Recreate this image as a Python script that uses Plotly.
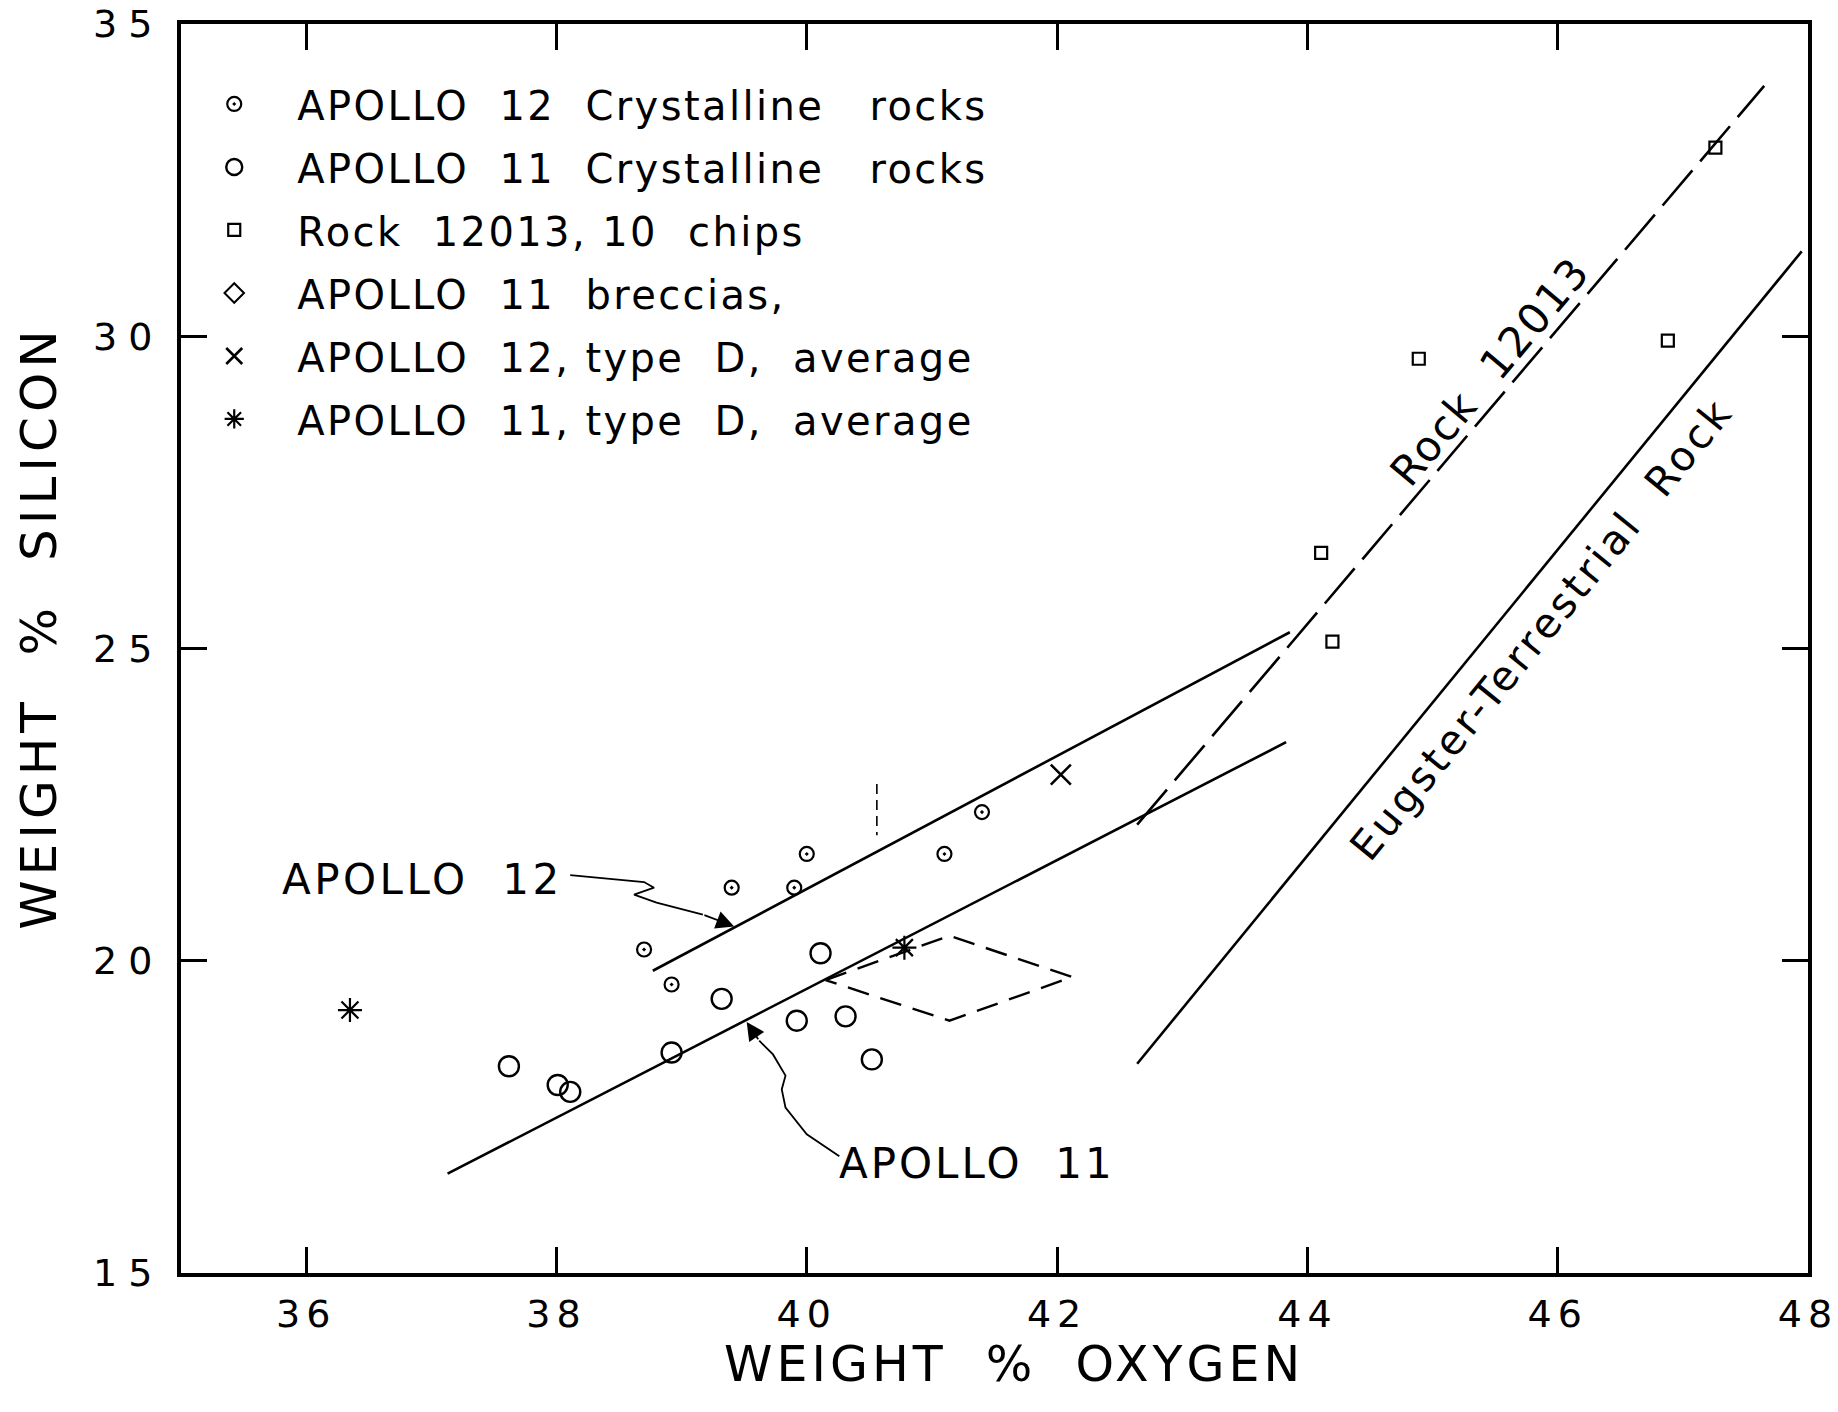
import plotly.graph_objects as go

FONT = "DejaVu Sans"

# ---------------- data ----------------
a12_o = [38.70, 38.92, 39.40, 39.90, 40.00, 41.10, 41.40]
a12_si = [20.18, 19.62, 21.17, 21.17, 21.71, 21.71, 22.38]

a11_o = [37.62, 38.01, 38.11, 38.92, 39.32, 39.92, 40.11, 40.31, 40.52]
a11_si = [18.31, 18.01, 17.90, 18.53, 19.39, 19.04, 20.12, 19.11, 18.42]

r12013_o = [47.26, 44.89, 46.88, 44.11, 44.20]
r12013_si = [33.02, 29.64, 29.93, 26.53, 25.11]

a12d_o = [42.03]
a12d_si = [22.98]

a11d_o = [36.35, 40.78]
a11d_si = [19.21, 20.21]

# breccia field (dashed diamond)
brec_o = [40.15, 41.14, 42.12, 41.14, 40.15]
brec_si = [19.69, 20.40, 19.74, 19.04, 19.69]

# trend lines
a12_line_o = [38.77, 43.86]
a12_line_si = [19.84, 25.26]
a11_line_o = [37.13, 43.83]
a11_line_si = [16.59, 23.50]
rock_line_o = [42.64, 47.65]
rock_line_si = [22.18, 34.01]
eug_line_o = [42.64, 47.95]
eug_line_si = [18.35, 31.36]

# small dashed vertical mark
mark_o = [40.56, 40.56]
mark_si = [22.83, 22.01]

# leader lines for the labels
lead12_o = [38.11, 38.70, 38.78, 38.62, 38.80, 39.17]
lead12_si = [21.37, 21.26, 21.17, 21.06, 20.93, 20.74]
lead12_tip = (39.42, 20.55)
lead11_o = [39.62, 39.73, 39.83, 39.80, 39.83, 40.00, 40.26]
lead11_si = [18.72, 18.50, 18.16, 17.94, 17.65, 17.22, 16.87]
lead11_tip = (39.52, 19.02)

x_ticks = [36, 38, 40, 42, 44, 46, 48]
y_ticks = [15, 20, 25, 30, 35]

legend_names = [
    "APOLLO  12  Crystalline   rocks",
    "APOLLO  11  Crystalline   rocks",
    "Rock  12013, 10  chips",
    "APOLLO  11  breccias,",
    "APOLLO  12, type  D,  average",
    "APOLLO  11, type  D,  average",
]


def spaced(text, px):
    return '<span style="letter-spacing:%spx">%s</span>' % (px, text)


fig = go.Figure()


def add_line(xs, ys, dash="solid", width=2.6):
    fig.add_trace(go.Scatter(x=xs, y=ys, mode="lines",
                             line=dict(color="black", width=width, dash=dash),
                             showlegend=False, hoverinfo="skip"))


add_line(a12_line_o, a12_line_si)
add_line(a11_line_o, a11_line_si)
add_line(rock_line_o, rock_line_si, dash="46px,12px")
add_line(eug_line_o, eug_line_si)
add_line(brec_o, brec_si, dash="22px,12px", width=2.4)
add_line(mark_o, mark_si, dash="10px,6px", width=1.6)
add_line(lead12_o, lead12_si, width=1.8)
add_line(lead11_o, lead11_si, width=1.8)

# markers (legend entries)
fig.add_trace(go.Scatter(x=a12_o, y=a12_si, mode="markers",
                         name=spaced(legend_names[0], 2.4), legendgroup="g1",
                         marker=dict(symbol="circle-open-dot", size=14, color="black",
                                     line=dict(width=2.2, color="black"))))
fig.add_trace(go.Scatter(x=a11_o, y=a11_si, mode="markers",
                         name=spaced(legend_names[1], 2.4), legendgroup="g2",
                         marker=dict(symbol="circle-open", size=20, color="black",
                                     line=dict(width=2.4, color="black"))))
fig.add_trace(go.Scatter(x=r12013_o, y=r12013_si, mode="markers",
                         name=spaced(legend_names[2], 2.4), legendgroup="g3",
                         marker=dict(symbol="square-open", size=12, color="black",
                                     line=dict(width=2.2, color="black"))))
fig.add_trace(go.Scatter(x=[None], y=[None], mode="markers",
                         name=spaced(legend_names[3], 2.4), legendgroup="g4",
                         marker=dict(symbol="diamond-open", size=15, color="black",
                                     line=dict(width=2, color="black"))))
fig.add_trace(go.Scatter(x=a12d_o, y=a12d_si, mode="markers",
                         name=spaced(legend_names[4], 2.4), legendgroup="g5",
                         marker=dict(symbol="x-thin-open", size=20, color="black",
                                     line=dict(width=2.6, color="black"))))
fig.add_trace(go.Scatter(x=a11d_o, y=a11d_si, mode="markers",
                         name=spaced(legend_names[5], 2.4), legendgroup="g6",
                         marker=dict(symbol="asterisk-open", size=20, color="black",
                                     line=dict(width=2.2, color="black"))))

annotations = [
    dict(x=lead12_tip[0], y=lead12_tip[1], ax=lead12_o[-1], ay=lead12_si[-1],
         xref="x", yref="y", axref="x", ayref="y", text="", showarrow=True,
         arrowhead=2, arrowsize=2.0, arrowwidth=1.8, arrowcolor="black"),
    dict(x=lead11_tip[0], y=lead11_tip[1], ax=lead11_o[0], ay=lead11_si[0],
         xref="x", yref="y", axref="x", ayref="y", text="", showarrow=True,
         arrowhead=2, arrowsize=2.0, arrowwidth=1.8, arrowcolor="black"),
    dict(x=36.93, y=21.30, xref="x", yref="y", text=spaced("APOLLO  12", 3.5),
         showarrow=False, font=dict(family=FONT, size=42, color="black")),
    dict(x=41.36, y=16.76, xref="x", yref="y", text=spaced("APOLLO  11", 3),
         showarrow=False, font=dict(family=FONT, size=42, color="black")),
    dict(x=45.46, y=29.43, xref="x", yref="y", text=spaced("Rock  12013", 2),
         showarrow=False, textangle=-50,
         font=dict(family=FONT, size=42, color="black")),
    dict(x=45.87, y=25.32, xref="x", yref="y",
         text=spaced("Eugster-Terrestrial  Rock", 3.5),
         showarrow=False, textangle=-51,
         font=dict(family=FONT, size=41, color="black")),
]

axis_common = dict(
    showline=True, linecolor="black", linewidth=4, mirror="ticks",
    ticks="inside", ticklen=26, tickwidth=2.6, tickcolor="black",
    showgrid=False, zeroline=False, ticklabeloverflow="allow",
    automargin=False,
    tickfont=dict(family=FONT, size=38, color="black"),
)

fig.update_layout(
    width=1838, height=1412,
    margin=dict(l=181, r=30, t=24, b=139),
    paper_bgcolor="white", plot_bgcolor="white",
    font=dict(family=FONT, color="black"),
    xaxis=dict(range=[35, 48], tickvals=x_ticks,
               ticktext=[spaced(str(v), 6) for v in x_ticks],
               ticklabelstandoff=4,
               title=dict(text=spaced("\u00a0\u00a0WEIGHT  %  OXYGEN", 4), standoff=0,
                          font=dict(family=FONT, size=49, color="black")),
               **axis_common),
    yaxis=dict(range=[15, 35], tickvals=y_ticks,
               ticktext=[spaced(str(v), 11) for v in y_ticks],
               ticklabelstandoff=6,
               title=dict(text=spaced("\u00a0\u00a0WEIGHT  %  SILICON", 5), standoff=22,
                          font=dict(family=FONT, size=50, color="black")),
               **axis_common),
    legend=dict(x=-0.006, y=0.962, xanchor="left", yanchor="top",
                bgcolor="rgba(0,0,0,0)", borderwidth=0,
                font=dict(family=FONT, size=40, color="black"),
                itemwidth=116, tracegroupgap=8, traceorder="grouped"),
    annotations=annotations,
    showlegend=True,
)

fig.write_html("out.html")
